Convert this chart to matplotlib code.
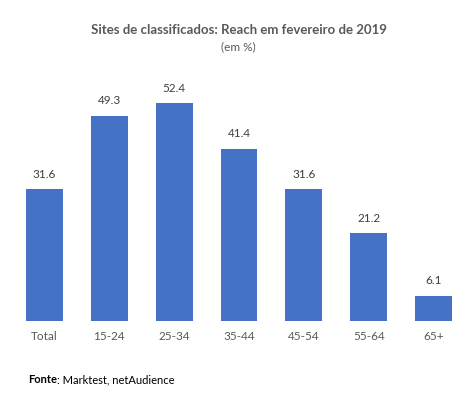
import matplotlib.pyplot as plt

# Reach por faixa etaria
categories = ['Total', '15-24', '25-34', '35-44', '45-54', '55-64', '65+']
reach = [31.6, 49.3, 52.4, 41.4, 31.6, 21.2, 6.1]

plt.rcParams['font.family'] = ['Lato', 'DejaVu Sans']

fig = plt.figure(figsize=(4.68, 3.97), dpi=100)
ax = fig.add_axes([12 / 468, 76 / 397, 454 / 468, 250 / 397])

bars = ax.bar(categories, reach, width=0.57, color='#4472C4')
ax.set_ylim(0, 60)
ax.set_xlim(-0.5, len(categories) - 0.5)

for bar in bars:
    h = bar.get_height()
    ax.text(bar.get_x() + bar.get_width() / 2, h + 2.2, f'{h:.1f}',
            ha='center', va='bottom', fontsize=8.5, color='#404040')

for s in ax.spines.values():
    s.set_visible(False)
ax.set_yticks([])
ax.tick_params(axis='x', length=0, labelsize=8.5, labelcolor='#595959', pad=7)

fig.text(0.51, 0.925, 'Sites de classificados: Reach em fevereiro de 2019',
         ha='center', va='center', fontsize=9.5, fontweight='bold', color='#595959')
fig.text(0.51, 0.883, '(em %)', ha='center', va='center', fontsize=8.5, color='#595959')

# fonte: parte em negrito seguida do resto
src = fig.text(28 / 468, 1 - 383 / 397, 'Fonte', ha='left', va='baseline',
               fontsize=8, fontweight='bold', color='black')
fig.canvas.draw()
bb = src.get_window_extent()
fig.text(bb.x1 / fig.bbox.width, 1 - 383 / 397, ': Marktest, netAudience',
         ha='left', va='baseline', fontsize=8, color='black')

plt.savefig('out.png', dpi=100)
